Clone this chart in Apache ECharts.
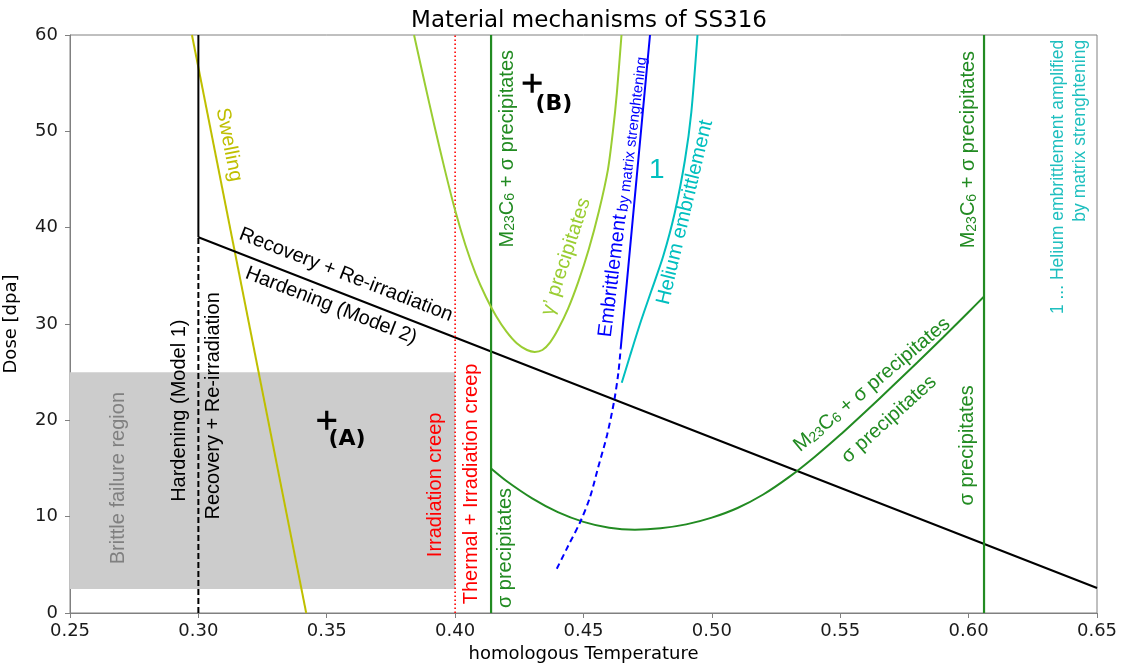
<!DOCTYPE html>
<html>
<head>
<meta charset="utf-8">
<script src="https://cdn.jsdelivr.net/npm/echarts@6/dist/echarts.min.js"></script>
<style>
html,body{margin:0;padding:0;background:#fff;}
#main{width:1123px;height:666px;}
</style>
</head>
<body>
<div id="main"></div>
<script>
// ---------- data ----------
const xTicks = [0.25, 0.30, 0.35, 0.40, 0.45, 0.50, 0.55, 0.60, 0.65];
const yTicks = [0, 10, 20, 30, 40, 50, 60];

const hardeningModel1Upper = [[0.30, 39.0], [0.30, 60]];
const hardeningModel1Lower = [[0.30, 0], [0.30, 39.0]];
const hardeningModel2 = [[0.30, 39.0], [0.65, 2.6]];
const swelling = [[0.2975, 60], [0.342, 0]];
const irradiationCreepLimit = [[0.40, 0], [0.40, 60]];
const precipitateLimitLeft = [[0.414, 0], [0.414, 60]];
const precipitateLimitRight = [[0.606, 0], [0.606, 60]];
const sigmaCurve = [
  [0.414, 15.0], [0.42, 13.7], [0.43, 11.9], [0.44, 10.47], [0.45, 9.46],
  [0.46, 8.85], [0.47, 8.65], [0.48, 8.8], [0.49, 9.2], [0.50, 9.9],
  [0.51, 10.9], [0.52, 12.3], [0.53, 14.1], [0.54, 16.2], [0.55, 18.5],
  [0.56, 20.95], [0.57, 23.45], [0.58, 26.0], [0.59, 28.6], [0.60, 31.25], [0.606, 32.85]
];
const gammaPrimeCurve = [
  [0.384, 60], [0.388, 55.2], [0.392, 50.5], [0.396, 46.0], [0.400, 41.8],
  [0.404, 38.2], [0.408, 35.2], [0.412, 32.8], [0.416, 30.8], [0.420, 29.2],
  [0.424, 28.0], [0.428, 27.3], [0.431, 27.1], [0.434, 27.3], [0.437, 28.1],
  [0.440, 29.4], [0.444, 31.6], [0.448, 34.4], [0.452, 37.7], [0.456, 41.7],
  [0.4595, 46.0], [0.4615, 50.1], [0.463, 54.0], [0.4648, 60]
];
const embrittlementSolid = [[0.4645, 27.5], [0.4700, 43.2], [0.4759, 60]];
const embrittlementDashed = [
  [0.4396, 4.6], [0.4441, 7.0], [0.4488, 9.5], [0.4525, 12.0], [0.4558, 15.2],
  [0.4592, 18.5], [0.4620, 22.1], [0.4636, 25.0], [0.4645, 27.5]
];
const heliumCurve = [
  [0.4649, 23.9], [0.468, 26.6], [0.472, 30.0], [0.4765, 33.5], [0.481, 37.0],
  [0.4855, 41.5], [0.4895, 47.0], [0.492, 52.0], [0.4944, 60]
];
const brittleRegion = [[0.25, 2.5], [0.40, 25]];
const markerPoints = [[0.35, 20], [0.43, 55]];

// ---------- styles ----------
const C = {
  black: '#000000', olive: '#bfbf00', red: '#ff0000', green: '#228b22',
  ygreen: '#9acd32', blue: '#0000ff', cyan: '#00bfbf', gray: '#808080'
};
const ANN = 'Liberation Sans, Arial, sans-serif';
const DJ = 'DejaVu Sans, sans-serif';

function lineSeries(data, color, type, width, smooth) {
  return {
    type: 'line', data: data, showSymbol: false, symbol: 'none',
    smooth: smooth || false, silent: true,
    lineStyle: { color: color, width: width || 2, type: type || 'solid' },
    z: 3
  };
}

const option = {
  animation: false,
  backgroundColor: '#ffffff',
  title: {
    text: 'Material mechanisms of SS316',
    left: 584, top: 5, textAlign: 'center',
    textStyle: { fontFamily: DJ, fontSize: 23, fontWeight: 'normal', color: '#000' }
  },
  grid: {
    left: 70, right: 26, top: 35, bottom: 53,
    outerBoundsMode: 'none', containLabel: false,
    show: true, borderColor: '#808080', borderWidth: 1, backgroundColor: 'transparent'
  },
  xAxis: {
    type: 'value', min: xTicks[0], max: xTicks[xTicks.length - 1], interval: 0.05,
    name: 'homologous Temperature', nameLocation: 'middle', nameGap: 32,
    nameTextStyle: { fontFamily: DJ, fontSize: 18, color: '#000' },
    axisLine: { show: true, lineStyle: { color: '#808080', width: 1 } },
    axisTick: { show: true, inside: false, length: 5, lineStyle: { color: '#808080' } },
    axisLabel: { fontFamily: DJ, fontSize: 18, color: '#1a1a1a', margin: 9,
      formatter: v => v.toFixed(2) },
    splitLine: { show: false }
  },
  yAxis: {
    type: 'value', min: yTicks[0], max: yTicks[yTicks.length - 1], interval: 10,
    name: 'Dose [dpa]', nameLocation: 'middle', nameGap: 50, nameRotate: 90,
    nameTextStyle: { fontFamily: DJ, fontSize: 18, color: '#000' },
    axisLine: { show: true, lineStyle: { color: '#808080', width: 1 } },
    axisTick: { show: true, inside: false, length: 5, lineStyle: { color: '#808080' } },
    axisLabel: { fontFamily: DJ, fontSize: 18, color: '#1a1a1a', margin: 12 },
    splitLine: { show: false }
  },
  series: [
    {
      type: 'line', data: [], silent: true, z: 1,
      markArea: {
        silent: true,
        itemStyle: { color: '#cccccc', opacity: 1 },
        data: [[{ coord: brittleRegion[0] }, { coord: brittleRegion[1] }]]
      }
    },
    lineSeries(swelling, C.olive, 'solid', 2),
    lineSeries(hardeningModel1Upper, C.black, 'solid', 2),
    lineSeries(hardeningModel1Lower, C.black, [6, 3], 2),
    lineSeries(hardeningModel2, C.black, 'solid', 2),
    lineSeries(irradiationCreepLimit, C.red, [1.5, 2.5], 1.6),
    lineSeries(precipitateLimitLeft, C.green, 'solid', 2.2),
    lineSeries(precipitateLimitRight, C.green, 'solid', 2.2),
    lineSeries(sigmaCurve, C.green, 'solid', 2, 0.25),
    lineSeries(gammaPrimeCurve, C.ygreen, 'solid', 2, 0.25),
    lineSeries(embrittlementSolid, C.blue, 'solid', 2, 0.25),
    lineSeries(embrittlementDashed, C.blue, [6, 4], 2, 0.3),
    lineSeries(heliumCurve, C.cyan, 'solid', 2, 0.25),
    {
      type: 'scatter', data: markerPoints, silent: true, z: 5,
      symbol: 'path://M-0.17,-1H0.17V-0.17H1V0.17H0.17V1H-0.17V0.17H-1V-0.17H-0.17Z',
      symbolSize: 19, itemStyle: { color: '#000', opacity: 1 }
    }
  ]
};

const chart = echarts.init(document.getElementById('main'), null, { renderer: 'canvas' });
chart.setOption(option);

// ---------- text annotations (anchored in data coordinates) ----------
function tok(size, color) {
  return { fontFamily: ANN, fontSize: size, color: color, fill: color, verticalAlign: 'bottom' };
}
function mcText(color) {
  return {
    text: '{n|M}{s|23}{n|C}{s|6}{n| + σ precipitates}',
    rich: { n: tok(20, color), s: tok(14, color) }
  };
}
const annotations = [
  { at: [0.3119, 48.6], rot: -79, text: 'Swelling', color: C.olive },
  { at: [0.3575, 35.1], rot: -21.3, text: 'Recovery + Re-irradiation', color: C.black },
  { at: [0.3517, 31.9], rot: -21.3, text: 'Hardening (Model 2)', color: C.black },
  { at: [0.2928, 21.0], rot: 90, text: 'Hardening (Model 1)', color: C.black },
  { at: [0.3057, 21.5], rot: 90, text: 'Recovery + Re-irradiation', color: C.black },
  { at: [0.2687, 14.0], rot: 90, text: 'Brittle failure region', color: C.gray },
  { at: [0.3925, 13.3], rot: 90, text: 'Irradiation creep', color: C.red },
  { at: [0.4062, 13.4], rot: 90, text: 'Thermal + Irradiation creep', color: C.red },
  { at: [0.4198, 6.75], rot: 90, text: 'σ precipitates', color: C.green },
  { at: [0.4202, 48.2], rot: 90, rich: mcText(C.green) },
  { at: [0.4432, 37.0], rot: 72, text: 'γ’ precipitates', color: C.ygreen },
  { at: [0.4652, 43.2], rot: 83, rich: {
      text: '{b|Embrittlement} {s|by matrix strenghtening}',
      rich: { b: tok(20, C.blue), s: tok(15, C.blue) } } },
  { at: [0.4785, 46.0], rot: 0, text: '1', color: C.cyan, size: 28 },
  { at: [0.4895, 41.6], rot: 76.6, text: 'Helium embrittlement', color: C.cyan },
  { at: [0.5624, 23.7], rot: 40, rich: mcText(C.green) },
  { at: [0.569, 20.1], rot: 42, text: 'σ precipitates', color: C.green },
  { at: [0.5997, 17.4], rot: 90, text: 'σ precipitates', color: C.green },
  { at: [0.6001, 48.1], rot: 90, rich: mcText(C.green) },
  { at: [0.6348, 59.5], rot: 90, text: '1 ... Helium embrittlement amplified', color: '#1fbfbf', size: 17.5, align: 'right' },
  { at: [0.6434, 59.5], rot: 90, text: 'by matrix strenghtening', color: '#1fbfbf', size: 17.5, align: 'right' },
  { at: [0.3579, 18.0], rot: 0, text: '(A)', color: C.black, size: 22, family: DJ, weight: 'bold' },
  { at: [0.4385, 52.8], rot: 0, text: '(B)', color: C.black, size: 22, family: DJ, weight: 'bold' }
];

const elements = annotations.map(a => {
  const p = chart.convertToPixel({ gridIndex: 0 }, a.at);
  const align = a.align || 'center';
  let style;
  if (a.rich) {
    style = { text: a.rich.text, rich: a.rich.rich, align: align, verticalAlign: 'middle',
      textAlign: align, textVerticalAlign: 'middle' };
  } else {
    style = {
      text: a.text, fill: a.color,
      fontFamily: a.family || ANN, fontSize: a.size || 20, fontWeight: a.weight || 'normal',
      align: align, verticalAlign: 'middle', textAlign: align, textVerticalAlign: 'middle'
    };
  }
  return { type: 'text', x: p[0], y: p[1], rotation: a.rot * Math.PI / 180, style: style, z: 10, silent: true };
});
chart.setOption({ graphic: { elements: elements } });
</script>
</body>
</html>
